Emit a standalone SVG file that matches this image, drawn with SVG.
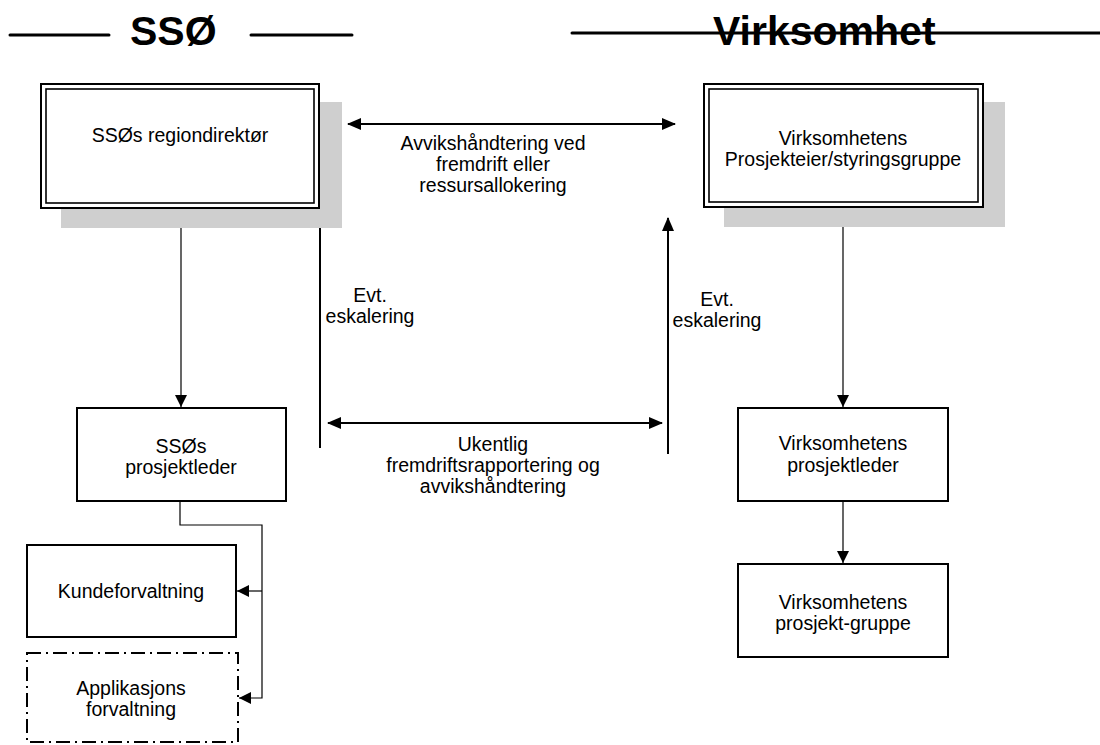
<svg xmlns="http://www.w3.org/2000/svg" width="1100" height="745" viewBox="0 0 1100 745">
<defs>
<marker id="ah" markerUnits="userSpaceOnUse" markerWidth="14" markerHeight="12" refX="13" refY="6" orient="auto-start-reverse" viewBox="0 0 14 12">
<path d="M0,0 L14,6 L0,12 z" fill="#000"/>
</marker>
<marker id="ahs" markerUnits="userSpaceOnUse" markerWidth="12" markerHeight="12" refX="12" refY="6" orient="auto" viewBox="0 0 12 12">
<path d="M0,0 L12,6 L0,12 z" fill="#000"/>
</marker>
<style>
text{font-family:"Liberation Sans",Arial,sans-serif;fill:#000}
.lbl{font-size:19.5px;text-anchor:middle}
.hdr{font-size:41px;font-weight:bold}
.hline{stroke:#000;stroke-width:3;stroke-linecap:round}
.box{fill:#fff;stroke:#000;stroke-width:2}
.shadow{fill:#cfcfcf}
.dbl{fill:none;stroke:#000;stroke-width:1.6}
.thin{fill:none;stroke:#000;stroke-width:1.2}
.thick{fill:none;stroke:#000;stroke-width:2}
</style>
</defs>
<rect width="1100" height="745" fill="#fff"/>

<g id="header">
<line class="hline" x1="10" y1="35" x2="109" y2="35"/>
<text class="hdr" x="130" y="45">SSØ</text>
<line class="hline" x1="251" y1="35" x2="352" y2="35"/>
<line class="hline" x1="572" y1="33" x2="1100" y2="33"/>
<text class="hdr" x="713" y="45">Virksomhet</text>
</g>

<g id="connectors">
<line class="thin" x1="181" y1="209" x2="181" y2="407" marker-end="url(#ahs)"/>
<line class="thin" x1="843" y1="209" x2="843" y2="407" marker-end="url(#ahs)"/>
<line class="thin" x1="843" y1="501" x2="843" y2="563" marker-end="url(#ahs)"/>
<polyline class="thin" points="180,501 180,525 262,525 262,698 239,698" marker-end="url(#ahs)"/>
<line class="thin" x1="262" y1="591" x2="237" y2="591" marker-end="url(#ahs)"/>
<line class="thick" x1="348" y1="124" x2="675" y2="124" marker-start="url(#ah)" marker-end="url(#ah)"/>
<line class="thick" x1="328" y1="423" x2="662" y2="423" marker-start="url(#ah)" marker-end="url(#ah)"/>
<line class="thick" x1="320" y1="228" x2="320" y2="448"/>
<line class="thick" x1="668" y1="454" x2="668" y2="218" marker-end="url(#ah)"/>
</g>

<g id="labels">
<text class="lbl" x="493" y="150">Avvikshåndtering ved</text>
<text class="lbl" x="493" y="171">fremdrift eller</text>
<text class="lbl" x="493" y="192">ressursallokering</text>
<text class="lbl" x="370" y="302">Evt.</text>
<text class="lbl" x="370" y="323">eskalering</text>
<text class="lbl" x="717" y="306">Evt.</text>
<text class="lbl" x="717" y="327">eskalering</text>
<text class="lbl" x="493" y="451">Ukentlig</text>
<text class="lbl" x="493" y="472">fremdriftsrapportering og</text>
<text class="lbl" x="493" y="493">avvikshåndtering</text>
</g>

<g id="node-regiondirektor">
<rect class="shadow" x="61" y="102" width="281" height="126"/>
<rect class="box" x="41" y="84" width="278" height="124" stroke-width="1.6"/>
<rect class="dbl" x="46" y="89" width="268" height="114"/>
<text class="lbl" x="180" y="142">SSØs regiondirektør</text>
</g>

<g id="node-prosjekteier">
<rect class="shadow" x="724" y="102" width="281" height="125"/>
<rect class="box" x="704" y="84" width="279" height="123" stroke-width="1.6"/>
<rect class="dbl" x="709" y="89" width="269" height="113"/>
<text class="lbl" x="843" y="145">Virksomhetens</text>
<text class="lbl" x="843" y="166">Prosjekteier/styringsgruppe</text>
</g>

<g id="node-ssos-prosjektleder">
<rect class="box" x="77" y="408" width="209" height="93"/>
<text class="lbl" x="181" y="453">SSØs</text>
<text class="lbl" x="181" y="474">prosjektleder</text>
</g>

<g id="node-kundeforvaltning">
<rect class="box" x="27" y="545" width="209" height="92"/>
<text class="lbl" x="131" y="598">Kundeforvaltning</text>
</g>

<g id="node-applikasjonsforvaltning">
<rect x="27" y="653" width="211" height="89" fill="#fff" stroke="#000" stroke-width="2" stroke-dasharray="14,5,2,5"/>
<text class="lbl" x="131" y="695">Applikasjons</text>
<text class="lbl" x="131" y="716">forvaltning</text>
</g>

<g id="node-virk-prosjektleder">
<rect class="box" x="738" y="408" width="210" height="93"/>
<text class="lbl" x="843" y="450">Virksomhetens</text>
<text class="lbl" x="843" y="472">prosjektleder</text>
</g>

<g id="node-virk-prosjektgruppe">
<rect class="box" x="738" y="564" width="210" height="93"/>
<text class="lbl" x="843" y="609">Virksomhetens</text>
<text class="lbl" x="843" y="630">prosjekt-gruppe</text>
</g>
</svg>
